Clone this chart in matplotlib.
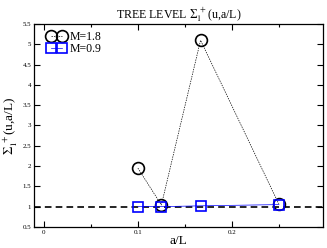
import matplotlib.pyplot as plt
import numpy as np

plt.rcParams['font.family'] = ['Liberation Serif', 'DejaVu Serif']
plt.rcParams['mathtext.fontset'] = 'stix'

# data
aL = [0.1, 0.125, 1/6, 0.25]
sigma_m18 = [1.95, 1.04, 5.1, 1.06]
sigma_m09 = [1.0, 1.0, 1.02, 1.05]

fig = plt.figure(figsize=(3.27, 2.48), dpi=100)
ax = fig.add_axes([0.104, 0.085, 0.884, 0.818])

ax.axhline(1.0, color='black', ls=(0, (4, 2.5)), lw=1.2, zorder=1)
ax.plot(aL, sigma_m18, color='black', ls=(0, (2, 1.5)), lw=0.5, marker='o',
        ms=8.5, mfc='none', mec='black', mew=1.2, label='M=1.8')
ax.plot(aL, sigma_m09, color='#0000ff', ls='-', lw=0.5, marker='s',
        ms=7.5, mfc='none', mec='#0000ff', mew=1.2, label='M=0.9')

ax.set_xlim(-0.0105, 0.297)
ax.set_ylim(0.5, 5.5)
ax.set_xticks([0, 0.1, 0.2])
ax.set_xticklabels(['0', '0.1', '0.2'])
ax.set_xticks(np.arange(0.05, 0.3, 0.1), minor=True)
ax.set_yticks(np.arange(0.5, 5.51, 0.5))
ax.set_yticklabels(['0.5', '1', '1.5', '2', '2.5', '3', '3.5', '4', '4.5', '5', '5.5'])
ax.tick_params(which='both', direction='in', top=True, right=True,
               labelsize=5, width=0.8, pad=2)
ax.tick_params(which='major', length=4)
ax.tick_params(which='minor', length=2.5)
for s in ax.spines.values():
    s.set_linewidth(0.9)

ax.set_title(r'TREE LEVEL $\Sigma_1^{\ +}$(u,a/L)', fontsize=8.6, pad=4)
ax.set_ylabel(r'$\Sigma_1^{\ +}$(u,a/L)', fontsize=9.5, labelpad=2)
ax.set_xlabel('a/L', fontsize=9.5, labelpad=0)

ax.legend(loc='upper left', numpoints=2, frameon=False, fontsize=8.5,
          handlelength=1.6, handletextpad=0.3, labelspacing=0.0,
          borderpad=0, borderaxespad=0, bbox_to_anchor=(0.045, 0.965))

fig.savefig('out.png', dpi=100)
